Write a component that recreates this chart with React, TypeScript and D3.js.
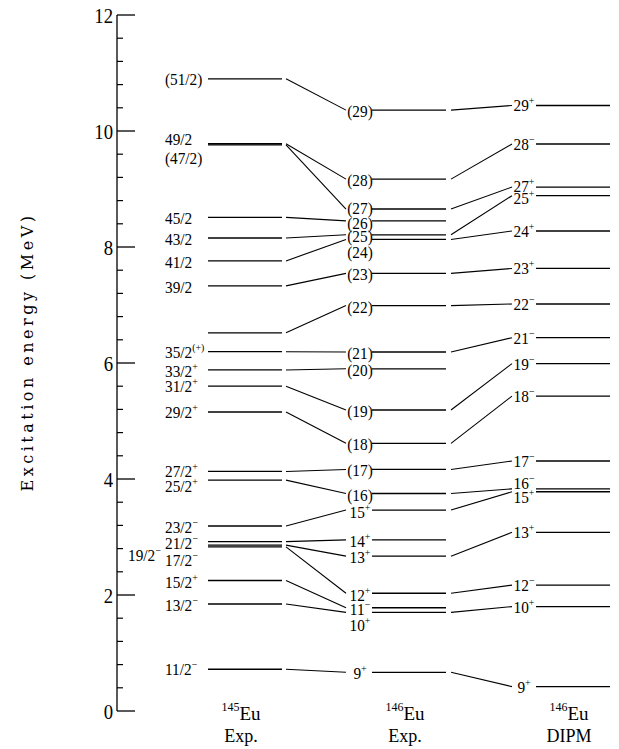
import React from 'react';
import * as d3 from 'd3';

// level energies (MeV) and spin labels
// "^" splits the label into base text and superscript
const exp145E = [10.90, 9.78, 9.76, 8.51, 8.155, 7.76, 7.33, 6.52, 6.195, 5.88, 5.60, 5.155, 4.13, 3.98, 3.19, 2.92, 2.86, 2.83, 2.25, 1.845, 0.72];
const exp145Labels = ['(51/2)', '49/2', '(47/2)', '45/2', '43/2', '41/2', '39/2', '', '35/2^(+)', '33/2^+', '31/2^+', '29/2^+', '27/2^+', '25/2^+', '23/2^\u2212', '21/2^\u2212', '19/2^\u2212', '17/2^\u2212', '15/2^+', '13/2^\u2212', '11/2^\u2212'];

const exp146E = [10.36, 9.17, 8.655, 8.45, 8.21, 8.13, 7.545, 6.99, 6.19, 5.90, 5.19, 4.615, 4.165, 3.75, 3.465, 2.95, 2.67, 2.03, 1.78, 1.70, 0.667];
const exp146Labels = ['(29)', '(28)', '(27)', '(26)', '(25)', '(24)', '(23)', '(22)', '(21)', '(20)', '(19)', '(18)', '(17)', '(16)', '15^+', '14^+', '13^+', '12^+', '11^\u2212', '10^+', '9^+'];

const dipmE = [10.44, 9.776, 9.034, 8.885, 8.276, 7.63, 7.017, 6.436, 5.99, 5.43, 4.31, 3.83, 3.78, 3.08, 2.17, 1.80, 0.42];
const dipmLabels = ['29^+', '28^\u2212', '27^+', '25^+', '24^+', '23^+', '22^\u2212', '21^\u2212', '19^\u2212', '18^\u2212', '17^\u2212', '16^\u2212', '15^+', '13^+', '12^\u2212', '10^+', '9^+'];

// connecting lines: [index in left column, index in right column]
const expLinks = exp145E.map((_, i) => [i, i]);
const dipmLinks = [[0, 0], [1, 1], [2, 2], [4, 3], [5, 4], [6, 5], [7, 6], [8, 7], [10, 8], [11, 9], [12, 10], [13, 11], [14, 12], [16, 13], [17, 14], [19, 15], [20, 16]];

const yTicks = [0, 2, 4, 6, 8, 10, 12];

// label nudges (px) where levels crowd together
const exp145Dy = [0, -4.5, 13, 1, 1, 1, 1, 0, 0, 1, 0, 0, 0, 6, 1, 1, 10, 13, 1, 1, 0];
const exp145Dx = exp145E.map((_, i) => (i === 16 ? -37 : 0));
const exp146Dy = [1, 1, -1, 2, 1, 13, 1, 1, 1, 1, 1, 1, 1, 1, 1.5, 1.5, 1, 2, 1, 13, 1];
const dipmDy = [0, 0, -1, 2, 0, 0, 0, 0, 0, 0, 0, -6, 5, 0, 0, 0, 0];

const W = 619;
const H = 749;
const serif = '"Liberation Serif", "DejaVu Serif", serif';

const y = d3.scaleLinear().domain([0, 12]).range([711, 15]);
const axisX = 117;

const cols = [
  { x1: 208, x2: 282 },
  { x1: 372, x2: 446 },
  { x1: 536, x2: 610 },
];

const Label = ({ x, yy, text, anchor }) => {
  if (!text) return null;
  const [base, sup] = text.split('^');
  return (
    <g transform={`translate(${x},${yy + 6})`}>
      <text transform="scale(0.9,1)" textAnchor={anchor} fontFamily={serif} fontSize={17} fill="#000">
        {base}
        {sup && <tspan fontSize={11} dy={-7}>{sup}</tspan>}
      </text>
    </g>
  );
};

const App = () => {
  const minor = d3.range(0, 12.001, 0.4).filter(v => Math.abs(v / 2 - Math.round(v / 2)) > 0.01);

  const column = (energies, labels, dys, c, labelX, anchor, dxs) => (
    <g>
      {energies.map((e, i) => (
        <line key={'l' + i} x1={c.x1} x2={c.x2} y1={y(e)} y2={y(e)} stroke="#000" strokeWidth={1.3} />
      ))}
      {labels.map((t, i) => (
        <Label key={'t' + i} x={labelX + (dxs ? dxs[i] : 0)} yy={y(energies[i]) + dys[i]} text={t} anchor={anchor} />
      ))}
    </g>
  );

  return (
    <svg width={W} height={H} style={{ position: 'absolute', left: 0, top: 0, background: '#fff' }}>
      {/* energy axis */}
      <line x1={axisX} x2={axisX} y1={y(0)} y2={y(12)} stroke="#000" strokeWidth={1.3} />
      {yTicks.map(t => (
        <g key={t}>
          <line x1={axisX} x2={axisX + 18} y1={y(t)} y2={y(t)} stroke="#000" strokeWidth={1.3} />
          <g transform={`translate(113,${y(t) + 7.5})`}>
            <text transform="scale(0.85,1)" textAnchor="end" fontFamily={serif} fontSize={22}>{t}</text>
          </g>
        </g>
      ))}
      {minor.map(t => (
        <line key={'m' + t} x1={axisX} x2={axisX + 6} y1={y(t)} y2={y(t)} stroke="#000" strokeWidth={1.2} />
      ))}
      <text
        transform={`translate(33,352) rotate(-90)`}
        textAnchor="middle"
        fontFamily='"DejaVu Serif", serif'
        fontSize={16}
        letterSpacing={3.5}
      >
        Excitation energy (MeV)
      </text>

      {/* level columns */}
      {column(exp145E, exp145Labels, exp145Dy, cols[0], 165, 'start', exp145Dx)}
      {column(exp146E, exp146Labels, exp146Dy, cols[1], 360, 'middle')}
      {column(dipmE, dipmLabels, dipmDy, cols[2], 524, 'middle')}

      {/* connectors */}
      {expLinks.map(([a, b], i) => (
        <line key={'ea' + i} x1={286} x2={346} y1={y(exp145E[a])} y2={y(exp146E[b])} stroke="#000" strokeWidth={1.1} />
      ))}
      {dipmLinks.map(([a, b], i) => (
        <line key={'db' + i} x1={451} x2={512} y1={y(exp146E[a])} y2={y(dipmE[b])} stroke="#000" strokeWidth={1.1} />
      ))}

      {/* nucleus / source labels */}
      {[
        { x: 241, mass: '145', sub: 'Exp.' },
        { x: 405, mass: '146', sub: 'Exp.' },
        { x: 569, mass: '146', sub: 'DIPM' },
      ].map(d => (
        <g key={d.x + d.sub}>
          <text x={d.x} y={720} textAnchor="middle" fontFamily={serif}>
            <tspan fontSize={12} dy={-9}>{d.mass}</tspan>
            <tspan fontSize={19} dy={9}>Eu</tspan>
          </text>
          <text x={d.x} y={742} textAnchor="middle" fontFamily={serif} fontSize={18}>{d.sub}</text>
        </g>
      ))}
    </svg>
  );
};

export default App;
